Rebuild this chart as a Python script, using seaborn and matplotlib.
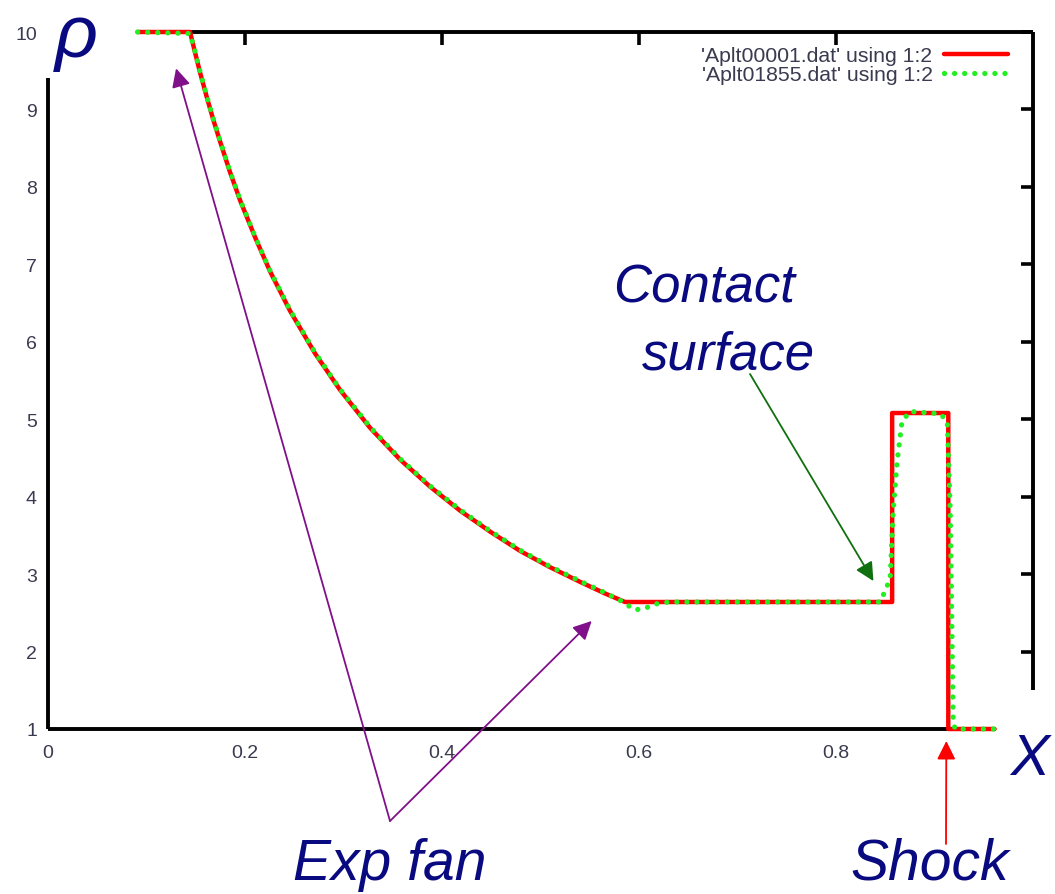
import matplotlib
matplotlib.use("Agg")
import matplotlib.pyplot as plt
import seaborn as sns
import pandas as pd

# ---- data ----
x_exact = [0.091, 0.1442, 0.1492, 0.1543, 0.1614, 0.1675, 0.1746, 0.1848, 0.1949, 0.2102,
           0.2254, 0.2457, 0.2711, 0.2964, 0.3269, 0.3574, 0.3878, 0.4183, 0.4487,
           0.4792, 0.5096, 0.5401, 0.5655, 0.5858,
           0.857, 0.857, 0.914, 0.914, 0.961]
rho_exact = [10, 10.0, 9.74, 9.48, 9.15, 8.88, 8.59, 8.19, 7.83, 7.35,
             6.91, 6.40, 5.85, 5.38, 4.89, 4.48, 4.13, 3.82, 3.55,
             3.30, 3.09, 2.90, 2.75, 2.64,
             2.64, 5.08, 5.08, 1.0, 1.0]

x_num = [0.091, 0.1442, 0.1492, 0.1543, 0.1614, 0.1675, 0.1746, 0.1848, 0.1949, 0.2102,
         0.2254, 0.2457, 0.2711, 0.2964, 0.3269, 0.3574, 0.3878, 0.4183, 0.4487,
         0.4792, 0.5096, 0.5401, 0.5655, 0.584,
         0.595, 0.605, 0.615, 0.63, 0.845, 0.855, 0.858, 0.862, 0.867, 0.875, 0.906,
         0.913, 0.916, 0.919, 0.921, 0.961]
rho_num = [10, 9.98, 9.75, 9.49, 9.16, 8.89, 8.60, 8.20, 7.84, 7.36,
           6.92, 6.41, 5.86, 5.39, 4.90, 4.49, 4.14, 3.83, 3.56,
           3.31, 3.10, 2.91, 2.76, 2.64,
           2.54, 2.55, 2.61, 2.64, 2.64, 2.94, 3.8, 4.45, 4.97, 5.1, 5.07,
           4.97, 3.8, 1.09, 1.0, 1.0]

labels = ["'Aplt00001.dat' using 1:2", "'Aplt01855.dat' using 1:2"]
xticks = [0, 0.2, 0.4, 0.6, 0.8]
xticklabels = ["0", "0.2", "0.4", "0.6", "0.8"]
yticks = [1, 2, 3, 4, 5, 6, 7, 8, 9, 10]

sns.set_style("white")
plt.rcParams['font.family'] = ['Liberation Sans', 'DejaVu Sans']

W, H = 1055, 895
fig = plt.figure(figsize=(W / 100, H / 100), dpi=100)
ax = fig.add_axes([48 / W, 165 / H, 985 / W, 697 / H])

df1 = pd.DataFrame({"x": x_exact, "rho": rho_exact})
df2 = pd.DataFrame({"x": x_num, "rho": rho_num})
sns.lineplot(data=df1, x="x", y="rho", sort=False, estimator=None, ax=ax,
             color="#ff0000", lw=3.2, label=labels[0], clip_on=False, zorder=3)
sns.lineplot(data=df2, x="x", y="rho", sort=False, estimator=None, ax=ax,
             color="#22ee22", lw=3.8, label=labels[1], clip_on=False, zorder=4)
ax.lines[1].set_linestyle((0, (0.01, 1.9)))
ax.lines[1].set_dash_capstyle("round")

ax.set_xlim(0, 1)
ax.set_ylim(1, 10)
ax.set_xticks(xticks)
ax.set_xticklabels(xticklabels)
ax.set_yticks(yticks)
ax.set_yticklabels([str(v) for v in yticks])
ax.set_xlabel("")
ax.set_ylabel("")

# broken frame, as in the reference
for s in ax.spines.values():
    s.set_linewidth(2.8)
    s.set_color("black")
    s.set_visible(True)
    s.set_capstyle("butt")
ax.spines["left"].set_bounds(1, 9.4)
ax.spines["top"].set_bounds(0.091, 1)
ax.spines["right"].set_bounds(1.5, 10)
ax.spines["bottom"].set_bounds(0, 0.961)

ax.tick_params(axis="both", direction="in", length=9, width=2.6, color="black",
               labelsize=14, labelcolor="#3a3a50", top=True, right=True)
ax.tick_params(axis="y", pad=8)
ax.tick_params(axis="x", pad=11)
ax.yaxis.get_major_ticks()[-1].tick1line.set_visible(False)
ax.yaxis.get_major_ticks()[0].tick2line.set_visible(False)
ax.yaxis.get_major_ticks()[0].tick1line.set_visible(False)
ax.xaxis.get_major_ticks()[0].tick2line.set_visible(False)
ax.xaxis.get_major_ticks()[0].tick1line.set_visible(False)

leg = ax.legend(loc="upper right", bbox_to_anchor=(1008 / W, (H - 47) / H),
                bbox_transform=fig.transFigure, frameon=False, markerfirst=False,
                fontsize=15.3, handlelength=3.0, handletextpad=0.55, labelspacing=0.02,
                borderpad=0, borderaxespad=0)
for t in leg.get_texts():
    t.set_color("#3a3a50")

navy = "#0a0a80"
fig.text(55, H - 57, "ρ", transform=None, fontsize=54, style="italic", color=navy,
         ha="left", va="baseline")
fig.text(1010, H - 775, "X", transform=None, fontsize=42, style="italic", color=navy,
         ha="left", va="baseline")
fig.text(293, H - 880, "Exp fan", transform=None, fontsize=41, style="italic", color=navy,
         ha="left", va="baseline")
fig.text(850, H - 880, "Shock", transform=None, fontsize=41, style="italic", color=navy,
         ha="left", va="baseline")
fig.text(613, H - 303, "Contact", transform=None, fontsize=38, style="italic", color=navy,
         ha="left", va="baseline")
fig.text(642, H - 370, "surface", transform=None, fontsize=38, style="italic", color=navy,
         ha="left", va="baseline")

purple = "#80108a"
ap_p = dict(arrowstyle="-|>", color=purple, lw=1.3, mutation_scale=28, shrinkA=0, shrinkB=0)
ax.annotate("", xy=(0.130, 9.53), xycoords="data", xytext=(390, H - 822),
            textcoords="figure pixels", arrowprops=ap_p, annotation_clip=False)
ax.annotate("", xy=(0.552, 2.395), xycoords="data", xytext=(390, H - 822),
            textcoords="figure pixels", arrowprops=ap_p, annotation_clip=False)
ax.annotate("", xy=(0.838, 2.91), xycoords="data", xytext=(750, H - 375),
            textcoords="figure pixels",
            arrowprops=dict(arrowstyle="-|>", color="#107010", lw=1.3, mutation_scale=28,
                            shrinkA=0, shrinkB=0), annotation_clip=False)
ax.annotate("", xy=(0.912, 0.845), xycoords="data", xytext=(946, H - 845),
            textcoords="figure pixels",
            arrowprops=dict(arrowstyle="-|>", color="#ff0000", lw=1.3, mutation_scale=28,
                            shrinkA=0, shrinkB=0), annotation_clip=False)

fig.savefig("out.png", dpi=100)
